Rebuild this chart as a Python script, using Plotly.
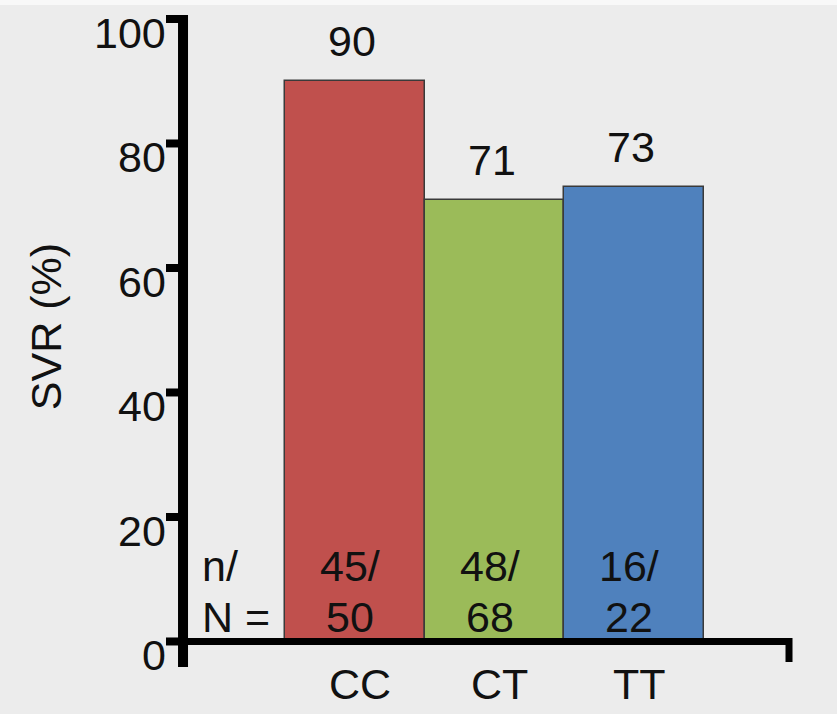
import plotly.graph_objects as go

# Sustained virological response by genotype
categories = ["CC", "CT", "TT"]
svr_pct = [90, 71, 73]
responders = [45, 48, 16]
totals = [50, 68, 22]
bar_colors = ["#C0504D", "#9BBB59", "#4F81BD"]
y_ticks = [0, 20, 40, 60, 80, 100]

FONT = "Liberation Sans, Arial, sans-serif"
FS = 43
INK = "#111111"

fig = go.Figure()
fig.add_trace(go.Bar(
    x=categories,
    y=svr_pct,
    width=1.0,
    marker=dict(color=bar_colors, line=dict(color="#3a3a3a", width=1.5)),
    hoverinfo="x+y",
    showlegend=False,
))

# axis geometry (data units)
X_YAXIS = -1.233          # vertical axis position
X_TICK0 = -1.355          # outer end of y ticks
X_RIGHT = 3.111           # right end of x axis
Y_TOP, Y_BOTTOM = 100.64, -4.1
Y_XEND = -3.3

shapes = [
    dict(type="path", xref="x", yref="y",
         path=f"M {X_YAXIS},{Y_TOP} L {X_YAXIS},{Y_BOTTOM}",
         line=dict(color="black", width=10)),
    dict(type="path", xref="x", yref="y",
         path=f"M {X_YAXIS},0 L {X_RIGHT},0 L {X_RIGHT},{Y_XEND}",
         line=dict(color="black", width=7)),
    # thin light strip along the top edge
    dict(type="rect", xref="paper", yref="paper", x0=0, x1=1, y0=1 - 5 / 714, y1=1,
         fillcolor="#f8f8f8", line=dict(width=0), layer="below"),
]
for t in y_ticks:
    shapes.append(dict(type="line", xref="x", yref="y", x0=X_TICK0, x1=X_YAXIS,
                       y0=t, y1=t, line=dict(color="black", width=8)))

annotations = []
for t in y_ticks:
    annotations.append(dict(x=-1.34, y=t, xref="x", yref="y", text=str(t),
                            xanchor="right", yanchor="middle", yshift=-14,
                            showarrow=False, font=dict(family=FONT, size=FS, color=INK)))

for i, (cat, v, n, N) in enumerate(zip(categories, svr_pct, responders, totals)):
    annotations.append(dict(x=i, y=v, xref="x", yref="y", text=str(v),
                            xanchor="center", yanchor="middle", yshift=40, xshift=-3,
                            showarrow=False, font=dict(family=FONT, size=FS, color=INK)))
    annotations.append(dict(x=i, y=12.05, xref="x", yref="y", text=f"{n}/",
                            xanchor="center", yanchor="middle", xshift=-5,
                            showarrow=False, font=dict(family=FONT, size=FS, color=INK)))
    annotations.append(dict(x=i, y=3.86, xref="x", yref="y", text=str(N),
                            xanchor="center", yanchor="middle", xshift=-5,
                            showarrow=False, font=dict(family=FONT, size=FS, color=INK)))
    annotations.append(dict(x=i, y=-4.1, xref="x", yref="y", text=cat,
                            xanchor="center", yanchor="top", xshift=5, yshift=9,
                            showarrow=False, font=dict(family=FONT, size=FS, color=INK)))

annotations.append(dict(x=-1.111, y=12.05, xref="x", yref="y", text="n/",
                        xanchor="left", yanchor="middle", showarrow=False,
                        font=dict(family=FONT, size=FS, color=INK)))
annotations.append(dict(x=-1.111, y=3.86, xref="x", yref="y", text="N =",
                        xanchor="left", yanchor="middle", showarrow=False,
                        font=dict(family=FONT, size=FS, color=INK)))
annotations.append(dict(x=-2.215, y=50.5, xref="x", yref="y", text="SVR (%)",
                        textangle=-90, xanchor="center", yanchor="middle", showarrow=False,
                        font=dict(family=FONT, size=FS, color=INK)))

fig.update_layout(
    width=837, height=714,
    margin=dict(l=0, r=0, t=0, b=0),
    paper_bgcolor="#ececec",
    plot_bgcolor="rgba(0,0,0,0)",
    bargap=0,
    xaxis=dict(range=[-2.545, 3.455], visible=False, fixedrange=True),
    yaxis=dict(range=[-11.65, 103.05], visible=False, fixedrange=True),
    shapes=shapes,
    annotations=annotations,
)

fig.write_html("out.html")
